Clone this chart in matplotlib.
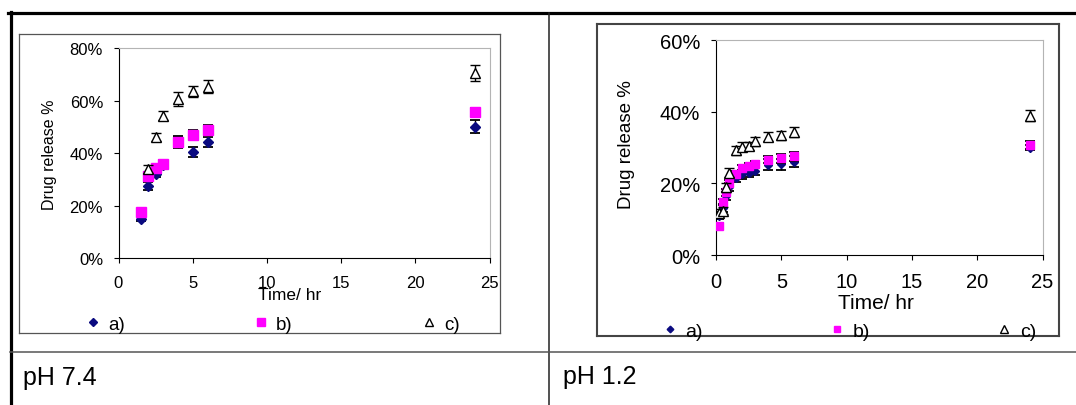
import matplotlib.pyplot as plt
from matplotlib.ticker import PercentFormatter

plt.rcParams['font.family'] = ['Liberation Sans', 'DejaVu Sans']

# pH 7.4 release data (percent)
t_74 = [1.5, 2, 2.5, 3, 4, 5, 6, 24]
a_74 = [15, 27.5, 32, 35.5, 44.3, 40.5, 44.3, 50]
a_74_err = [1, 1.6, 1.2, 1.5, 1.8, 1.9, 1.9, 2.5]
b_74 = [17.5, 31.2, 34.3, 36, 44.3, 47, 48.8, 55.7]
b_74_err = [1, 1.5, 1.2, 1.5, 2.2, 1.7, 2, 1.5]
tc_74 = [2, 2.5, 3, 4, 5, 6, 24]
c_74 = [34, 46.2, 54.2, 60.8, 63.6, 65.4, 70.5]
c_74_err = [1.5, 1.4, 1.7, 2.7, 2, 2.4, 3]

# pH 1.2 release data (percent)
t_12 = [0.25, 0.5, 0.75, 1, 1.5, 2, 2.5, 3, 4, 5, 6, 24]
a_12 = [11, 13, 16.5, 19, 21.5, 22.5, 23, 23.5, 25.2, 25.3, 26, 30]
a_12_err = [1, 1, 1.2, 1.2, 1.2, 1.2, 1.2, 1.2, 1.5, 1.5, 1.5, 0.8]
b_12 = [8.2, 14.9, 17.5, 20, 22.5, 24.2, 24.8, 25.3, 26.6, 27, 27.5, 30.7]
b_12_err = [0.8, 0.8, 1, 1, 1, 1, 1, 1, 1, 1.2, 1.2, 1]
c_12 = [11.8, 12.4, 18.9, 23, 29.2, 30.2, 30.4, 31.7, 33, 33.4, 34.3, 38.9]
c_12_err = [1, 1, 1.2, 1.2, 1.2, 1.2, 1.2, 1.2, 1.2, 1.2, 1.5, 1.6]

labels = ['a)', 'b)', 'c)']
navy = '#0a0a80'
pink = '#ff00ff'

W, H = 1076, 406
fig = plt.figure(figsize=(W / 100, H / 100), dpi=100)

# table grid behind the charts
bg = fig.add_axes([0, 0, 1, 1])
bg.set_xlim(0, W)
bg.set_ylim(H, 0)
bg.axis('off')
bg.plot([8, W], [14.3, 14.3], color='black', lw=2.3)
bg.plot([10.5, 10.5], [13, H], color='black', lw=2.3)
bg.plot([549, 549], [14, H], color='#222222', lw=1.1)
bg.plot([10, W], [352.5, 352.5], color='#555555', lw=1.1)
bg.text(23, 385, 'pH 7.4', fontsize=18, va='baseline')
bg.text(563, 384.5, 'pH 1.2', fontsize=18, va='baseline')


def frame(x0, y0, x1, y1, color, lw):
    fr = fig.add_axes([x0 / W, 1 - y1 / H, (x1 - x0) / W, (y1 - y0) / H])
    fr.set_xticks([])
    fr.set_yticks([])
    fr.patch.set_alpha(0)
    for s in fr.spines.values():
        s.set_color(color)
        s.set_linewidth(lw)
    return fr


def panel(box, t_ab, a, a_err, b, b_err, t_c, c, c_err, ymax, sizes, mk):
    x0, y0, x1, y1 = box
    ax = fig.add_axes([x0 / W, 1 - y1 / H, (x1 - x0) / W, (y1 - y0) / H])
    ax.patch.set_alpha(0)
    ek = dict(ecolor='black', elinewidth=1, capsize=3.8, capthick=1.3, linestyle='none')
    ea = ax.errorbar(t_ab, a, yerr=a_err, marker='D', markersize=mk[0], color=navy,
                     markeredgecolor=navy, zorder=3, **ek)
    eb = ax.errorbar(t_ab, b, yerr=b_err, marker='s', markersize=mk[1], color=pink,
                     markeredgecolor=pink, zorder=4, **ek)
    ec = ax.errorbar(t_c, c, yerr=c_err, marker='^', markersize=mk[2], color='black',
                     markerfacecolor='white', markeredgewidth=1, zorder=5, **ek)
    ax.set_xlim(0, 25)
    ax.set_ylim(0, ymax)
    ax.set_xticks([0, 5, 10, 15, 20, 25])
    ax.set_yticks(range(0, ymax + 1, 20))
    ax.yaxis.set_major_formatter(PercentFormatter(decimals=0))
    for s in ['top', 'right']:
        ax.spines[s].set_color('#b4b4b4')
    for s in ['left', 'bottom']:
        ax.spines[s].set_color('black')
    ax.tick_params(axis='y', direction='out', length=3.6, labelsize=sizes['ytick'], pad=sizes['ypad'])
    ax.tick_params(axis='x', direction='out', length=3.6, labelsize=sizes['xtick'], pad=sizes['xpad'])
    return ax, [ea[0], eb[0], ec[0]]


# pH 7.4 chart
frame(19, 35, 500, 334, '#555555', 0.9)
s74 = dict(ytick=12, xtick=12, ypad=7.5, xpad=8.6)
ax1, h1 = panel((118.5, 49.3, 489.5, 259), t_74, a_74, a_74_err, b_74, b_74_err,
                tc_74, c_74, c_74_err, 80, s74, (4.8, 7, 7))
# in the original the axis title sits over the "10" tick label
ax1.set_xlabel('Time/ hr', fontsize=12.5)
ax1.xaxis.set_label_coords(0.462, -0.137)
ax1.set_ylabel('Drug release %', fontsize=11.5, va='center')
ax1.yaxis.set_label_coords(-0.187, 0.498)
ax1.legend(h1, labels, ncol=3, loc='center left', bbox_to_anchor=(85.5 / W, 1 - 325 / H),
           bbox_transform=fig.transFigure, frameon=False, borderpad=0, borderaxespad=0,
           handlelength=0.8, handletextpad=0.4, columnspacing=6.87, fontsize=13.5,
           numpoints=1, markerscale=0.8)

# pH 1.2 chart
frame(596.5, 24.5, 1059, 337, '#444444', 1.5)
s12 = dict(ytick=14.5, xtick=14.5, ypad=7.8, xpad=8.6)
ax2, h2 = panel((716, 41, 1042.6, 256), t_12, a_12, a_12_err, b_12, b_12_err,
                t_12, c_12, c_12_err, 60, s12, (4.2, 6, 6.5))
ax2.set_xlabel('Time/ hr', fontsize=15)
ax2.xaxis.set_label_coords(0.49, -0.178)
ax2.set_ylabel('Drug release %', fontsize=13.5, va='center')
ax2.yaxis.set_label_coords(-0.274, 0.516)
ax2.legend(h2, labels, ncol=3, loc='center left', bbox_to_anchor=(662.2 / W, 1 - 332 / H),
           bbox_transform=fig.transFigure, frameon=False, borderpad=0, borderaxespad=0,
           handlelength=0.8, handletextpad=0.4, columnspacing=6.5, fontsize=14,
           numpoints=1, markerscale=0.8)

fig.savefig('out.png', dpi=100)
